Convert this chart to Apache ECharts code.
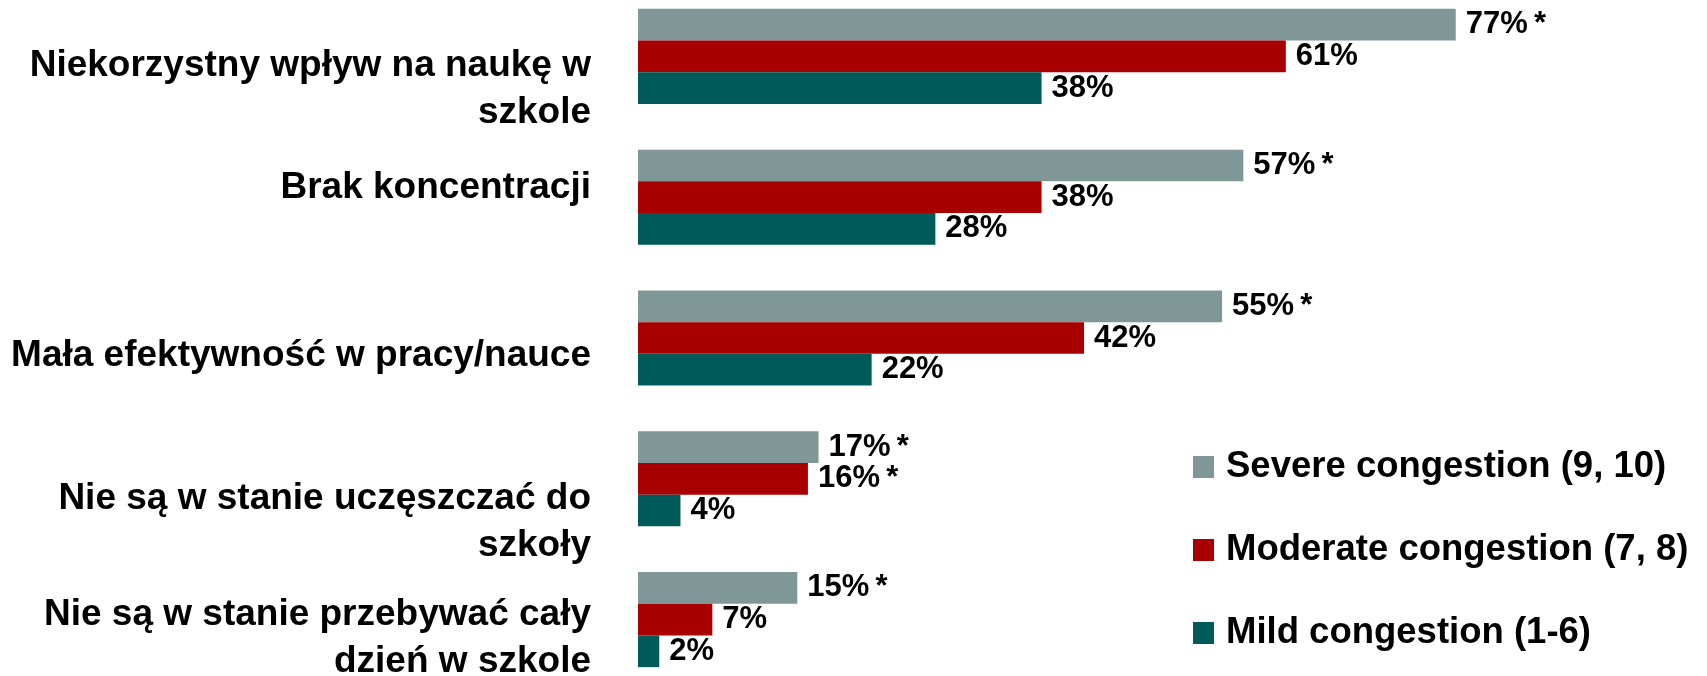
<!DOCTYPE html>
<html>
<head>
<meta charset="utf-8">
<script src="https://cdn.jsdelivr.net/npm/echarts@6/dist/echarts.min.js"></script>
<style>
  html, body { margin: 0; padding: 0; background: #ffffff; }
  #chart { width: 1707px; height: 676px; }
</style>
</head>
<body>
<div id="chart"></div>
<script>
// ---- data ----
const categories = [
  'Niekorzystny wpływ na naukę w\nszkole',
  'Brak koncentracji',
  'Mała efektywność w pracy/nauce',
  'Nie są w stanie uczęszczać do\nszkoły',
  'Nie są w stanie przebywać cały\ndzień w szkole'
];
const seriesNames = ['Severe congestion (9, 10)', 'Moderate congestion (7, 8)', 'Mild congestion (1-6)'];
const severe   = [77, 57, 55, 17, 15];
const moderate = [61, 38, 42, 16, 7];
const mild     = [38, 28, 22, 4, 2];
// significance marks (asterisk) per series / category
const severeStar   = [true, true, true, true, true];
const moderateStar = [false, false, false, true, false];
const mildStar     = [false, false, false, false, false];

// ---- styling ----
const FONT = '"Liberation Sans", Arial, Helvetica, sans-serif';
const colors = ['#7F9797', '#A80000', '#005A5A'];
// vertical nudges of category labels (px, + = down) to mimic the original layout
const labelNudge = [33, -9, 18, 43, 19];

const rich = {
  t: { fontFamily: FONT, fontWeight: 'bold', fontSize: 37, lineHeight: 47, color: '#000' }
};
labelNudge.forEach((s, i) => {
  rich['sp' + i] = { fontSize: 1, lineHeight: Math.max(1, Math.abs(2 * s)) };
});

function catFormatter(value, index) {
  const lines = String(value).split('\n').map(l => '{t|' + l + '}');
  const s = labelNudge[index] || 0;
  const spacer = '{sp' + index + '| }';
  if (s > 0) lines.unshift(spacer);
  else if (s < 0) lines.push(spacer);
  return lines.join('\n');
}

function mkSeries(name, data, stars, color) {
  return {
    name: name,
    type: 'bar',
    data: data,
    barWidth: 31.7,
    barGap: '0%',
    itemStyle: { color: color },
    label: {
      show: true,
      position: 'right',
      distance: 10,
      fontFamily: FONT,
      fontWeight: 'bold',
      fontSize: 31,
      color: '#000',
      formatter: p => Math.round(p.value) + '%' + (stars[p.dataIndex] ? '\u2009*' : '')
    },
    animation: false
  };
}

const chart = echarts.init(document.getElementById('chart'), null, { renderer: 'canvas' });
chart.setOption({
  backgroundColor: '#ffffff',
  animation: false,
  grid: { left: 638, top: -14, width: 1062, height: 704, containLabel: false, outerBoundsMode: 'none' },
  xAxis: {
    type: 'value', min: 0, max: 100, show: false
  },
  yAxis: {
    type: 'category',
    inverse: true,
    data: categories,
    axisLine: { show: false },
    axisTick: { show: false },
    splitLine: { show: false },
    axisLabel: {
      interval: 0,
      hideOverlap: false,
      margin: 47,
      fontFamily: FONT,
      fontWeight: 'bold',
      fontSize: 37,
      lineHeight: 47,
      color: '#000',
      align: 'right',
      formatter: catFormatter,
      rich: rich
    }
  },
  legend: {
    orient: 'vertical',
    left: 1188,
    top: 442,
    icon: 'rect',
    itemWidth: 21,
    itemHeight: 22,
    itemGap: 43,
    selectedMode: false,
    textStyle: {
      fontFamily: FONT,
      fontWeight: 'bold',
      fontSize: 36.5,
      lineHeight: 40,
      color: '#000',
      padding: [0, 0, 0, 7]
    },
    data: seriesNames
  },
  series: [
    mkSeries(seriesNames[0], severe, severeStar, colors[0]),
    mkSeries(seriesNames[1], moderate, moderateStar, colors[1]),
    mkSeries(seriesNames[2], mild, mildStar, colors[2])
  ]
});
</script>
</body>
</html>
